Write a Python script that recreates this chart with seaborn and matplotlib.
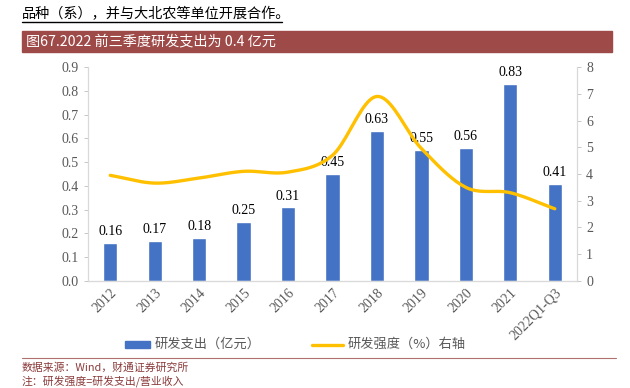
import numpy as np
import pandas as pd
import matplotlib
matplotlib.use('Agg')
import matplotlib.pyplot as plt
import seaborn as sns
from matplotlib.patches import Rectangle
from matplotlib.lines import Line2D

# data
years = ['2012', '2013', '2014', '2015', '2016', '2017', '2018', '2019', '2020', '2021', '2022Q1-Q3']
rd_spend = [0.16, 0.17, 0.18, 0.25, 0.31, 0.45, 0.63, 0.55, 0.56, 0.83, 0.41]
rd_intensity = [3.95, 3.66, 3.85, 4.10, 4.07, 4.70, 6.90, 4.95, 3.50, 3.30, 2.70]

BLUE = '#4472C4'
GOLD = '#FFC000'
BANNER = '#9E4A48'
GRAY = '#595959'
CJK = ['Noto Sans CJK SC', 'DejaVu Sans']
SERIF = ['Liberation Serif', 'Noto Sans CJK SC']


def smooth(xs, ys, n=20):
    # Catmull-Rom style rendering of the line, like the office chart's smoothed line
    xs = np.asarray(xs, float)
    ys = np.asarray(ys, float)
    px = np.concatenate([[2 * xs[0] - xs[1]], xs, [2 * xs[-1] - xs[-2]]])
    py = np.concatenate([[2 * ys[0] - ys[1]], ys, [2 * ys[-1] - ys[-2]]])
    ox, oy = [], []
    for i in range(1, len(px) - 2):
        t = np.linspace(0, 1, n, endpoint=False)
        for p, o in ((px, ox), (py, oy)):
            p0, p1, p2, p3 = p[i - 1], p[i], p[i + 1], p[i + 2]
            o.extend(0.5 * (2 * p1 + (-p0 + p2) * t + (2 * p0 - 5 * p1 + 4 * p2 - p3) * t ** 2
                            + (-p0 + 3 * p1 - 3 * p2 + p3) * t ** 3))
    ox.append(xs[-1])
    oy.append(ys[-1])
    return np.array(ox), np.array(oy)


def main():
    sns.set_style('white')
    plt.rcParams['font.family'] = CJK

    df = pd.DataFrame({'year': years, 'spend': rd_spend, 'intensity': rd_intensity})

    fig = plt.figure(figsize=(6.3, 3.88), dpi=100)
    ax = fig.add_axes([0.1397, 0.2758, 0.7762, 0.5515])

    sns.barplot(data=df, x='year', y='spend', color=BLUE, width=0.32,
                saturation=1, ax=ax)
    ax.set_ylim(0, 0.9)
    ax.set_xlim(-0.5, len(years) - 0.5)
    ax.set_yticks(np.arange(0, 0.91, 0.1))
    ax.set_yticklabels([f'{v:.1f}' for v in np.arange(0, 0.91, 0.1)])
    ax.set_xlabel('')
    ax.set_ylabel('')

    for i, v in enumerate(rd_spend):
        ax.text(i, v + 0.02, f'{v:.2f}', ha='center', va='bottom',
                fontsize=10, family=SERIF, color='black')

    ax2 = ax.twinx()
    sx, sy = smooth(np.arange(len(years)), rd_intensity)
    ax2.plot(sx, sy, color=GOLD, lw=2.4, solid_capstyle='round')
    ax2.set_ylim(0, 8)
    ax2.set_yticks(range(0, 9))

    for a in (ax, ax2):
        for s in a.spines.values():
            s.set_color('#D9D9D9')
            s.set_linewidth(0.8)
        a.spines['top'].set_visible(False)
        a.tick_params(axis='both', colors='#BFBFBF', labelcolor=GRAY,
                      labelsize=10, length=3, width=0.6, direction='out')
        for lab in a.get_yticklabels():
            lab.set_family(SERIF)
    ax.spines['bottom'].set_color('#BFBFBF')
    ax.set_xticks(np.arange(-0.5, len(years) + 0.5), minor=True)
    ax.tick_params(axis='x', which='major', length=0)
    ax.tick_params(axis='x', which='minor', length=4, colors='#BFBFBF')
    ax.set_xticks(range(len(years)))
    ax.set_xticklabels(years, rotation=45, ha='right', rotation_mode='anchor',
                       family=SERIF, fontsize=10, color=GRAY)

    # header text and banner
    fig.text(0.035, 0.963, '品种（系），并与大北农等单位开展合作。', fontsize=10.2,
             color='black', va='center', family=CJK)
    fig.add_artist(Line2D([0.035, 0.448], [0.943, 0.943], color='black', lw=1))
    fig.add_artist(Rectangle((0.035, 0.865), 0.937, 0.056, color=BANNER,
                             transform=fig.transFigure))
    fig.text(0.042, 0.893, '图67.2022 前三季度研发支出为 0.4 亿元', fontsize=10.2,
             color='white', va='center', family=CJK)

    # legend
    fig.add_artist(Rectangle((0.198, 0.103), 0.04, 0.018, color=BLUE,
                             transform=fig.transFigure))
    fig.text(0.245, 0.112, '研发支出（亿元）', fontsize=9.5, color=GRAY, va='center')
    fig.add_artist(Line2D([0.495, 0.545], [0.112, 0.112], color=GOLD, lw=2.4))
    fig.text(0.552, 0.112, '研发强度（%）右轴', fontsize=9.5, color=GRAY, va='center')

    # footer
    fig.add_artist(Line2D([0.035, 0.977], [0.077, 0.077], color='#B07070', lw=0.8))
    fig.text(0.035, 0.052, '数据来源：Wind，财通证券研究所', fontsize=7.8,
             color='#8B3A3A', va='center')
    fig.text(0.035, 0.017, '注：研发强度=研发支出/营业收入', fontsize=7.8,
             color='#8B3A3A', va='center')

    fig.savefig('out.png', dpi=100)
    plt.close(fig)


if __name__ == '__main__':
    main()
